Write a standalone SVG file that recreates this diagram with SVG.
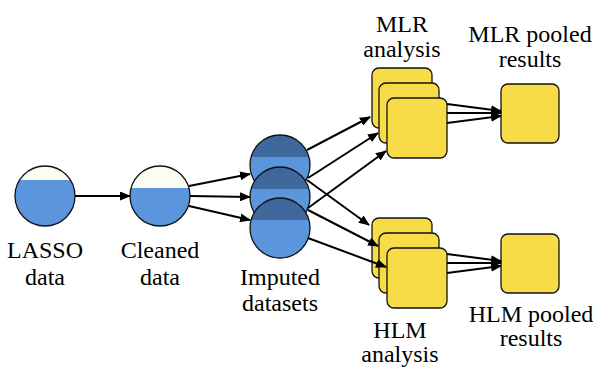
<svg xmlns="http://www.w3.org/2000/svg" width="595" height="371" viewBox="0 0 595 371">
<defs>
<marker id="ah" markerUnits="userSpaceOnUse" markerWidth="11" markerHeight="9" refX="10" refY="4.5" orient="auto">
<path d="M0,0 L11,4.5 L0,9 z" fill="#000"/>
</marker>
<path id="capL" d="M-25.4 -16 A30 30 0 0 1 25.4 -16 Z"/>
<path id="capS" d="M-28.9 -8 A30 30 0 0 1 28.9 -8 Z"/>
</defs>
<rect width="595" height="371" fill="#fff"/>

<g id="lasso">
<circle cx="45" cy="196" r="30" fill="#5b96dc"/>
<use href="#capL" x="45" y="196" fill="#fbfcf2"/>
<circle cx="45" cy="196" r="30" fill="none" stroke="#111" stroke-width="1.3"/>
<text x="7" y="258" font-family="Liberation Serif" font-size="24">LASSO</text>
<text x="25" y="285" font-family="Liberation Serif" font-size="24">data</text>
</g>

<g id="cleaned">
<circle cx="160" cy="196" r="30" fill="#5b96dc"/>
<use href="#capS" x="160" y="196" fill="#fbfcf2"/>
<circle cx="160" cy="196" r="30" fill="none" stroke="#111" stroke-width="1.3"/>
<text x="120.7" y="258" font-family="Liberation Serif" font-size="24">Cleaned</text>
<text x="140" y="285" font-family="Liberation Serif" font-size="24">data</text>
</g>

<g id="imputed">
<circle cx="280" cy="165" r="30" fill="#5b96dc"/>
<use href="#capS" x="280" y="165" fill="#3f689c"/>
<circle cx="280" cy="165" r="30" fill="none" stroke="#111" stroke-width="1.3"/>
<circle cx="280" cy="197" r="30" fill="#5b96dc"/>
<use href="#capS" x="280" y="197" fill="#3f689c"/>
<circle cx="280" cy="197" r="30" fill="none" stroke="#111" stroke-width="1.3"/>
<circle cx="280" cy="228" r="30" fill="#5b96dc"/>
<use href="#capS" x="280" y="228" fill="#3f689c"/>
<circle cx="280" cy="228" r="30" fill="none" stroke="#111" stroke-width="1.3"/>
<text x="240" y="285" font-family="Liberation Serif" font-size="24">Imputed</text>
<text x="242" y="311" font-family="Liberation Serif" font-size="24">datasets</text>
</g>

<g id="mlr">
<g fill="#f7dc47" stroke="#111" stroke-width="1.3">
<rect x="372" y="68" width="60" height="60" rx="7"/>
<rect x="379" y="83" width="60" height="60" rx="7"/>
<rect x="387" y="98" width="60" height="60" rx="7"/>
</g>
<text x="376" y="32" font-family="Liberation Serif" font-size="24">MLR</text>
<text x="363.3" y="57" font-family="Liberation Serif" font-size="24">analysis</text>
</g>

<g id="hlm">
<g fill="#f7dc47" stroke="#111" stroke-width="1.3">
<rect x="372" y="218" width="60" height="60" rx="7"/>
<rect x="379" y="233" width="60" height="60" rx="7"/>
<rect x="387" y="248" width="60" height="60" rx="7"/>
</g>
<text x="373.3" y="338" font-family="Liberation Serif" font-size="24">HLM</text>
<text x="361.3" y="362" font-family="Liberation Serif" font-size="24">analysis</text>
</g>

<g id="mlr-pooled">
<rect x="501" y="84" width="58" height="59" rx="7" fill="#f7dc47" stroke="#111" stroke-width="1.3"/>
<text x="468.3" y="42" font-family="Liberation Serif" font-size="24">MLR pooled</text>
<text x="498.7" y="67" font-family="Liberation Serif" font-size="24">results</text>
</g>

<g id="hlm-pooled">
<rect x="501" y="234" width="58" height="59" rx="7" fill="#f7dc47" stroke="#111" stroke-width="1.3"/>
<text x="468.7" y="322" font-family="Liberation Serif" font-size="24">HLM pooled</text>
<text x="499.7" y="346" font-family="Liberation Serif" font-size="24">results</text>
</g>

<g id="connectors" fill="none" stroke="#000" stroke-width="2" marker-end="url(#ah)">
<line x1="75" y1="196" x2="130" y2="196"/>
<line x1="189" y1="186" x2="250" y2="174"/>
<line x1="190" y1="196" x2="250" y2="197"/>
<line x1="189" y1="206" x2="250" y2="220"/>
<line x1="307" y1="150" x2="370" y2="117"/>
<line x1="308" y1="178" x2="378" y2="133"/>
<line x1="308" y1="208" x2="386" y2="151"/>
<line x1="307" y1="180" x2="369" y2="225"/>
<line x1="308" y1="210" x2="378" y2="246"/>
<line x1="308" y1="238" x2="386" y2="267"/>
<line x1="447" y1="104" x2="501" y2="111"/>
<line x1="447" y1="113" x2="501" y2="113"/>
<line x1="447" y1="123" x2="501" y2="116"/>
<line x1="447" y1="254" x2="501" y2="261"/>
<line x1="447" y1="263" x2="501" y2="263"/>
<line x1="447" y1="273" x2="501" y2="266"/>
</g>
</svg>
